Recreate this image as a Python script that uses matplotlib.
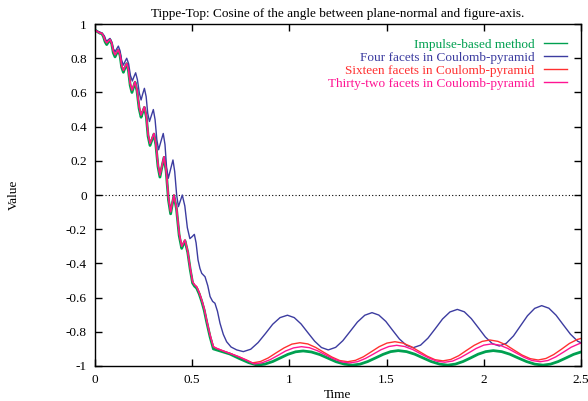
import matplotlib
matplotlib.use("Agg")
import matplotlib.pyplot as plt
import numpy as np

plt.rcParams["font.family"] = "Liberation Serif"
plt.rcParams["axes.unicode_minus"] = False

# ---- early (wobbling) part of the three close curves ----
t_early = [0.000, 0.013, 0.026, 0.035, 0.043, 0.052, 0.060, 0.068, 0.077,
           0.086, 0.094, 0.103, 0.111, 0.120, 0.129, 0.137, 0.146, 0.154,
           0.163, 0.172, 0.181, 0.190, 0.198, 0.206, 0.216, 0.227, 0.237,
           0.245, 0.254, 0.264, 0.273, 0.283, 0.293, 0.303, 0.313, 0.324,
           0.334, 0.344, 0.355, 0.366, 0.378, 0.389, 0.397, 0.406, 0.419,
           0.433, 0.446, 0.454, 0.463, 0.477, 0.490, 0.502, 0.512, 0.523,
           0.536, 0.549, 0.562, 0.574, 0.592, 0.609, 0.626, 0.660, 0.694,
           0.740]
red_early = [0.965, 0.955, 0.947, 0.946, 0.932, 0.904, 0.890, 0.900, 0.910,
             0.888, 0.843, 0.820, 0.835, 0.850, 0.820, 0.760, 0.730, 0.750,
             0.770, 0.731, 0.653, 0.614, 0.638, 0.663, 0.614, 0.517, 0.468,
             0.492, 0.516, 0.462, 0.356, 0.302, 0.331, 0.360, 0.299, 0.178,
             0.117, 0.170, 0.224, 0.144, -0.018, -0.098, -0.049, 0.000, -0.075,
             -0.225, -0.300, -0.282, -0.263, -0.330, -0.430, -0.507, -0.525,
             -0.536, -0.570, -0.614, -0.665, -0.730, -0.820, -0.887, -0.897,
             -0.912, -0.926, -0.946]
green_early = [0.965, 0.955, 0.946, 0.944, 0.928, 0.896, 0.880, 0.894, 0.908,
               0.884, 0.832, 0.808, 0.828, 0.848, 0.815, 0.748, 0.718, 0.743,
               0.768, 0.727, 0.641, 0.600, 0.630, 0.660, 0.609, 0.505, 0.455,
               0.484, 0.512, 0.457, 0.344, 0.290, 0.323, 0.356, 0.294, 0.166,
               0.105, 0.163, 0.220, 0.139, -0.030, -0.110, -0.057, -0.004, -0.080,
               -0.237, -0.312, -0.290, -0.268, -0.335, -0.437, -0.515, -0.533,
               -0.545, -0.578, -0.622, -0.675, -0.740, -0.830, -0.900, -0.906,
               -0.918, -0.930, -0.955]

# ---- late (smooth oscillation) part ----
t_red_late = [0.780, 0.810, 0.851, 0.891, 0.932, 0.973, 1.013, 1.054, 1.095,
              1.136, 1.177, 1.218, 1.259, 1.300, 1.340, 1.381, 1.421, 1.462,
              1.502, 1.543, 1.584, 1.625, 1.667, 1.708, 1.749, 1.790, 1.830,
              1.871, 1.911, 1.951, 1.992, 2.032, 2.073, 2.115, 2.156, 2.197,
              2.239, 2.280, 2.320, 2.360, 2.401, 2.441, 2.481, 2.500]
red_late = [-0.965, -0.982, -0.974, -0.953, -0.923, -0.894, -0.872, -0.864,
            -0.871, -0.892, -0.920, -0.947, -0.968, -0.975, -0.967, -0.946,
            -0.917, -0.887, -0.866, -0.858, -0.866, -0.886, -0.914, -0.942,
            -0.963, -0.970, -0.962, -0.940, -0.909, -0.879, -0.856, -0.848,
            -0.856, -0.877, -0.907, -0.936, -0.957, -0.965, -0.956, -0.933,
            -0.901, -0.868, -0.845, -0.839]

t_pink_late = [0.780, 0.820, 0.860, 0.901, 0.941, 0.981, 1.022, 1.062, 1.103,
               1.145, 1.186, 1.227, 1.269, 1.310, 1.350, 1.391, 1.431, 1.471,
               1.512, 1.552, 1.593, 1.635, 1.676, 1.717, 1.759, 1.800, 1.840,
               1.880, 1.920, 1.960, 2.000, 2.040, 2.082, 2.123, 2.165, 2.207,
               2.248, 2.290, 2.330, 2.370, 2.410, 2.450, 2.490, 2.500]
pink_late = [-0.967, -0.988, -0.981, -0.963, -0.938, -0.912, -0.894, -0.887,
             -0.893, -0.911, -0.935, -0.958, -0.976, -0.982, -0.975, -0.956,
             -0.931, -0.905, -0.886, -0.879, -0.886, -0.904, -0.929, -0.953,
             -0.972, -0.978, -0.971, -0.951, -0.925, -0.898, -0.878, -0.871,
             -0.878, -0.897, -0.923, -0.949, -0.968, -0.975, -0.968, -0.947,
             -0.919, -0.890, -0.870, -0.866]

t_green_late = [0.790, 0.835, 0.874, 0.914, 0.953, 0.992, 1.032, 1.071, 1.113,
                1.156, 1.198, 1.240, 1.283, 1.325, 1.364, 1.403, 1.443, 1.482,
                1.521, 1.560, 1.603, 1.645, 1.688, 1.730, 1.773, 1.815, 1.854,
                1.893, 1.932, 1.971, 2.010, 2.049, 2.092, 2.134, 2.177, 2.220,
                2.262, 2.305, 2.344, 2.383, 2.423, 2.462, 2.500]
green_late = [-0.980, -0.995, -0.989, -0.974, -0.953, -0.932, -0.917, -0.912,
              -0.918, -0.933, -0.954, -0.975, -0.989, -0.995, -0.989, -0.974,
              -0.953, -0.932, -0.916, -0.910, -0.916, -0.931, -0.953, -0.974,
              -0.989, -0.995, -0.989, -0.974, -0.953, -0.931, -0.916, -0.910,
              -0.916, -0.931, -0.953, -0.974, -0.989, -0.995, -0.989, -0.974,
              -0.953, -0.932, -0.918]

# ---- four facets (blue) ----
t_blue = [0.000, 0.017, 0.034, 0.045, 0.050, 0.055, 0.060, 0.068, 0.077,
          0.086, 0.094, 0.103, 0.111, 0.120, 0.129, 0.137, 0.146, 0.154,
          0.163, 0.173, 0.182, 0.192, 0.200, 0.209, 0.218, 0.228, 0.237,
          0.245, 0.254, 0.263, 0.271, 0.280, 0.290, 0.300, 0.309, 0.318,
          0.327, 0.339, 0.351, 0.360, 0.368, 0.377, 0.389, 0.401, 0.410,
          0.420, 0.429, 0.439, 0.449, 0.462, 0.475, 0.488, 0.500, 0.511,
          0.520, 0.530, 0.540, 0.549, 0.566, 0.580, 0.592, 0.605, 0.617,
          0.630, 0.643, 0.660, 0.677, 0.700, 0.729, 0.763, 0.801, 0.839,
          0.877, 0.914, 0.952, 0.990, 1.025, 1.060, 1.095, 1.130, 1.165,
          1.200, 1.238, 1.275, 1.313, 1.350, 1.388, 1.425, 1.460, 1.496,
          1.531, 1.566, 1.602, 1.637, 1.675, 1.713, 1.751, 1.788, 1.826,
          1.864, 1.900, 1.936, 1.972, 2.008, 2.044, 2.080, 2.116, 2.153,
          2.189, 2.225, 2.262, 2.298, 2.335, 2.372, 2.409, 2.446, 2.483,
          2.500]
blue = [0.965, 0.956, 0.949, 0.935, 0.926, 0.909, 0.900, 0.908, 0.916,
        0.896, 0.857, 0.838, 0.854, 0.871, 0.843, 0.788, 0.760, 0.780,
        0.800, 0.767, 0.700, 0.667, 0.691, 0.715, 0.675, 0.596, 0.556,
        0.590, 0.624, 0.576, 0.479, 0.430, 0.465, 0.500, 0.441, 0.324,
        0.265, 0.313, 0.360, 0.295, 0.164, 0.098, 0.152, 0.205, 0.137,
        0.000, -0.068, -0.034, 0.000, -0.064, -0.191, -0.255, -0.243, -0.230,
        -0.280, -0.380, -0.430, -0.458, -0.478, -0.530, -0.594, -0.622, -0.633,
        -0.680, -0.750, -0.815, -0.858, -0.889, -0.906, -0.916, -0.902, -0.863,
        -0.810, -0.756, -0.717, -0.703, -0.717, -0.754, -0.805, -0.855, -0.892,
        -0.906, -0.891, -0.852, -0.797, -0.743, -0.703, -0.688, -0.702, -0.739,
        -0.791, -0.842, -0.879, -0.893, -0.878, -0.837, -0.781, -0.725, -0.684,
        -0.669, -0.683, -0.723, -0.776, -0.830, -0.869, -0.883, -0.867, -0.824,
        -0.765, -0.706, -0.663, -0.647, -0.662, -0.703, -0.759, -0.814, -0.855,
        -0.864]

t_red = t_early + t_red_late
y_red = red_early + red_late
t_pink = t_early + t_pink_late
y_pink = red_early + pink_late
t_green = t_early + t_green_late
y_green = green_early + green_late

fig = plt.figure(figsize=(5.88, 4.01), dpi=100)
ax = fig.add_axes([0.1616, 0.0873, 0.8264, 0.8527])

ax.axhline(0, color="black", lw=0.8, ls=(0, (1, 2)), zorder=1)

ax.plot(t_green, y_green, color="#00a050", lw=2.0, label="Impulse-based method")
ax.plot(t_blue, blue, color="#3c3ca0", lw=1.0,
        label="Four facets in Coulomb-pyramid")
ax.plot(t_red, y_red, color="#ff3030", lw=1.0,
        label="Sixteen facets in Coulomb-pyramid")
ax.plot(t_pink, y_pink, color="#ff1493", lw=1.0,
        label="Thirty-two facets in Coulomb-pyramid")

ax.set_xlim(0, 2.5)
ax.set_ylim(-1, 1)
ax.set_xticks(np.arange(0, 2.51, 0.5))
ax.set_xticklabels(["0", "0.5", "1", "1.5", "2", "2.5"])
ax.set_yticks(np.arange(-1, 1.01, 0.2))
ax.set_yticklabels(["-1", "-0.8", "-0.6", "-0.4", "-0.2", "0",
                    "0.2", "0.4", "0.6", "0.8", "1"])
ax.tick_params(direction="in", top=True, right=True, length=5, width=1,
               labelsize=9.5, pad=6)
for s in ax.spines.values():
    s.set_linewidth(1.0)

ax.set_xlabel("Time", fontsize=9.5, labelpad=2)
ax.set_ylabel("Value", fontsize=9.5, labelpad=33)
ax.set_title("Tippe-Top: Cosine of the angle between plane-normal and figure-axis.",
             fontsize=9.5, pad=5)

leg = ax.legend(loc="upper right", markerfirst=False, frameon=False,
                fontsize=9.5, labelcolor="linecolor", handlelength=1.75,
                handletextpad=0.7, labelspacing=0.05,
                bbox_to_anchor=(0.995, 0.992))
for h in leg.legend_handles:
    h.set_linewidth(1.0)

fig.savefig("out.png", dpi=100)
